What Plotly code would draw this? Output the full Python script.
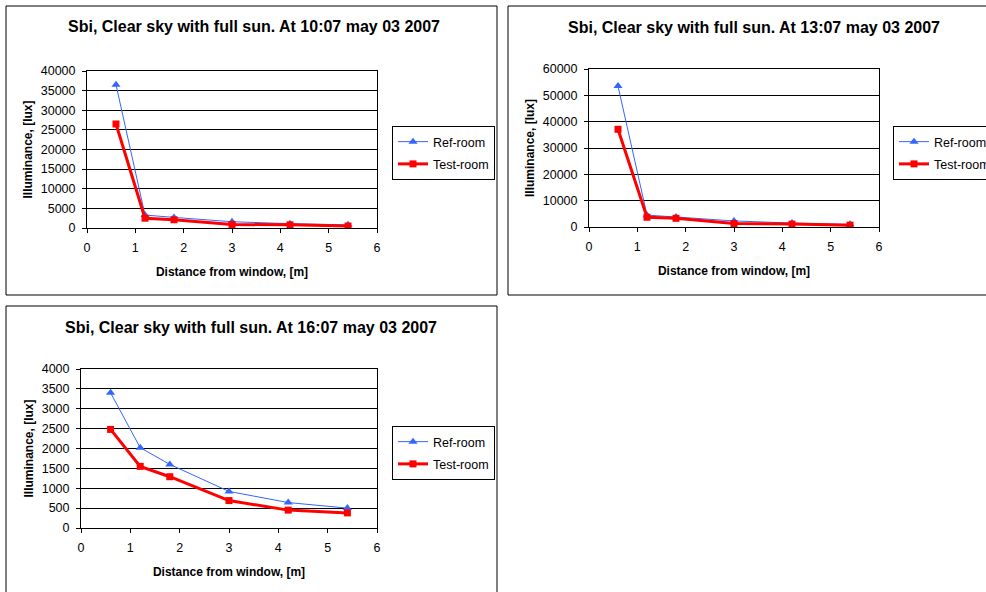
"""
Sbi, clear sky with full sun - illuminance vs distance from window
three Excel-style panels (10:07, 13:07, 16:07 on May 03 2007)
"""

import plotly.graph_objects as go

# ---- data ----
distance = [0.6, 1.2, 1.8, 3.0, 4.2, 5.4]

ref_1007 = [36500, 3300, 2700, 1600, 1100, 800]
test_1007 = [26500, 2500, 2100, 900, 800, 500]

ref_1307 = [53500, 4500, 3800, 2300, 1500, 1000]
test_1307 = [37100, 3700, 3300, 1300, 1100, 700]

ref_1607 = [3400, 2020, 1600, 920, 640, 500]
test_1607 = [2480, 1550, 1290, 690, 450, 380]

titles = [
    'Sbi, Clear sky with full sun. At 10:07 may 03 2007',
    'Sbi, Clear sky with full sun. At 13:07 may 03 2007',
    'Sbi, Clear sky with full sun. At 16:07 may 03 2007',
]
y_ranges = [(40000, 5000), (60000, 10000), (4000, 500)]

W, H = 986, 592
FONT = 'Liberation Sans, Arial, sans-serif'
REF_COLOR = '#3366FF'
TEST_COLOR = '#FF0000'


def px(x):
    return x / W


def py(y):
    return 1 - y / H


# 每个面板: 绘图区像素框, 外框, 标题位置, 图例位置
panels = [
    dict(plot=(87, 71, 377, 228), box=(6, 6, 497, 295), title=(254, 26), legend=(392, 126)),
    dict(plot=(589, 69, 879, 227), box=(508, 6, 1000, 295), title=(754, 27), legend=(893, 126)),
    dict(plot=(81, 369, 377, 528), box=(6, 306, 497, 610), title=(251, 327), legend=(392, 426)),
]
series = [(ref_1007, test_1007), (ref_1307, test_1307), (ref_1607, test_1607)]

fig = go.Figure()

for i, (p, (ref, test)) in enumerate(zip(panels, series)):
    n = '' if i == 0 else str(i + 1)
    leg = 'legend' + n
    fig.add_trace(go.Scatter(
        x=distance, y=ref, mode='lines+markers', name='Ref-room',
        line=dict(color=REF_COLOR, width=1),
        marker=dict(symbol='triangle-up', size=8, color=REF_COLOR),
        xaxis='x' + n, yaxis='y' + n, legend=leg, legendgroup='ref' + n,
    ))
    fig.add_trace(go.Scatter(
        x=distance, y=test, mode='lines+markers', name='Test-room',
        line=dict(color=TEST_COLOR, width=3),
        marker=dict(symbol='square', size=7, color=TEST_COLOR),
        xaxis='x' + n, yaxis='y' + n, legend=leg, legendgroup='test' + n,
    ))

    x0, y0, x1, y1 = p['plot']
    ymax, dy = y_ranges[i]
    axis_common = dict(
        showline=True, linecolor='black', linewidth=1, mirror=True,
        ticks='outside', ticklen=4, tickcolor='black',
        tickfont=dict(family=FONT, size=12.5, color='black'),
        zeroline=False,
    )
    fig.layout['xaxis' + n] = dict(
        domain=[px(x0), px(x1)], range=[0, 6], dtick=1, tick0=0,
        anchor='y' + n, showgrid=False, ticklabelstandoff=4,
        title=dict(text='<b>Distance from window, [m]</b>',
                   font=dict(family=FONT, size=12, color='black'), standoff=13),
        **axis_common,
    )
    fig.layout['yaxis' + n] = dict(
        domain=[py(y1), py(y0)], range=[0, ymax], dtick=dy, tick0=0,
        tickformat='d',
        anchor='x' + n, showgrid=True, gridcolor='black', gridwidth=1,
        ticklabelstandoff=4,
        title=dict(text='<b>Illuminance, [lux]</b>',
                   font=dict(family=FONT, size=12, color='black'), standoff=5),
        **axis_common,
    )
    lx, ly = p['legend']
    fig.layout[leg] = dict(
        x=px(lx), y=py(ly), xanchor='left', yanchor='top',
        bordercolor='black', borderwidth=1, bgcolor='white',
        font=dict(family=FONT, size=12.5, color='black'),
        tracegroupgap=3,
    )

    bx0, by0, bx1, by1 = p['box']
    fig.add_shape(type='rect', xref='paper', yref='paper',
                  x0=px(bx0), y0=py(by1), x1=px(bx1), y1=py(by0),
                  line=dict(color='black', width=1), layer='below')
    tx, ty = p['title']
    fig.add_annotation(
        x=px(tx), y=py(ty), xref='paper', yref='paper',
        text='<b>' + titles[i] + '</b>', showarrow=False,
        xanchor='center', yanchor='middle',
        font=dict(family=FONT, size=16, color='black'),
    )

fig.update_layout(
    width=W, height=H,
    # autoexpand 关掉, 右侧图例可以像原图一样被裁掉
    margin=dict(l=0, r=0, t=0, b=0, autoexpand=False),
    paper_bgcolor='white', plot_bgcolor='white',
    showlegend=True,
)

# 去掉页面默认边距, 图刚好占满窗口
fig.write_html(
    'out.html',
    config={'displayModeBar': False},
    post_script="document.body.style.margin = '0';",
)
